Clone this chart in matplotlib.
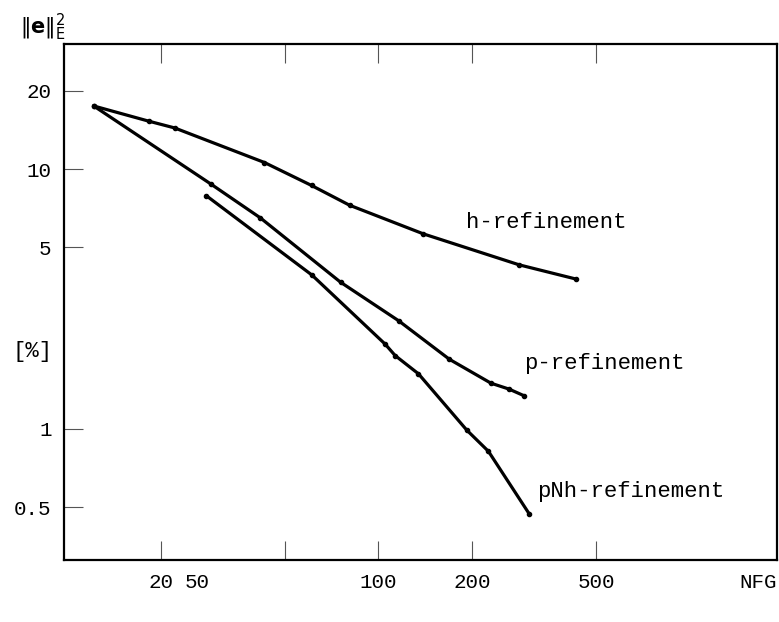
import matplotlib.pyplot as plt
from matplotlib.ticker import NullLocator

# データ (NFG, 誤差 [%])
h_nfg = [12.2, 18.3, 22.2, 43.1, 61.0, 80.8, 139.5, 283, 432]
h_err = [17.5, 15.3, 14.4, 10.6, 8.65, 7.26, 5.63, 4.28, 3.77]

p_nfg = [12.2, 29.0, 41.8, 75.6, 116, 169, 229.6, 262.6, 292.4]
p_err = [17.5, 8.76, 6.49, 3.67, 2.61, 1.853, 1.50, 1.423, 1.344]

pnh_nfg = [28.0, 61.2, 105.1, 113.2, 134.4, 192, 225.4, 304.3]
pnh_err = [7.91, 3.91, 2.12, 1.915, 1.63, 0.99, 0.82, 0.472]

xticks = [20, 50, 100, 200, 500]
xlabels = ['20', '', '100', '200', '500']
yticks = [0.5, 1, 5, 10, 20]
ylabels = ['0.5', '1', '5', '10', '20']

mono = 'Liberation Mono'
plt.rcParams['mathtext.fontset'] = 'dejavusans'

fig = plt.figure(figsize=(7.79, 6.22), dpi=100)
ax = fig.add_axes([64 / 779, 1 - 560 / 622, 713 / 779, 516 / 622])

for xs, ys in [(h_nfg, h_err), (p_nfg, p_err), (pnh_nfg, pnh_err)]:
    ax.plot(xs, ys, color='black', lw=2.3, marker='o', ms=3,
            solid_capstyle='round', solid_joinstyle='round')

ax.set_xscale('log')
ax.set_yscale('log')
ax.set_xlim(9.8, 1900)
ax.set_ylim(0.313, 30.3)

ax.set_xticks(xticks)
ax.set_xticklabels(xlabels, fontfamily=mono, fontsize=15)
ax.set_yticks(yticks)
ax.set_yticklabels(ylabels, fontfamily=mono, fontsize=15)
ax.xaxis.set_minor_locator(NullLocator())
ax.yaxis.set_minor_locator(NullLocator())
ax.tick_params(axis='both', direction='in', length=14, width=0.8,
               color='#555555', top=True, right=False, pad=9)
for s in ax.spines.values():
    s.set_linewidth(1.6)

# 「50」ラベルは 20 の隣にずれて印字されている
lab_y = -12.5 / 516
ax.text(26.3, lab_y, '50', transform=ax.get_xaxis_transform(),
        ha='center', va='top', fontfamily=mono, fontsize=15)
ax.text(1.0, lab_y, 'NFG', transform=ax.transAxes,
        ha='right', va='top', fontfamily=mono, fontsize=15)


def px(x, y):
    return (x / 779, 1 - y / 622)


# 曲線ラベル
fig.text(*px(466, 222), 'h-refinement', fontsize=16, fontfamily=mono, va='center')
fig.text(*px(524, 364), 'p-refinement', fontsize=16, fontfamily=mono, va='center')
fig.text(*px(537, 492), 'pNh-refinement', fontsize=16, fontfamily=mono, va='center')
fig.text(*px(33, 351), '[%]', fontsize=16, fontfamily=mono, ha='center', va='center')
fig.text(*px(43, 27), r'$\|\mathbf{e}\|_{\mathrm{E}}^{2}$', fontsize=15,
         ha='center', va='center')

fig.savefig('out.png', dpi=100)
